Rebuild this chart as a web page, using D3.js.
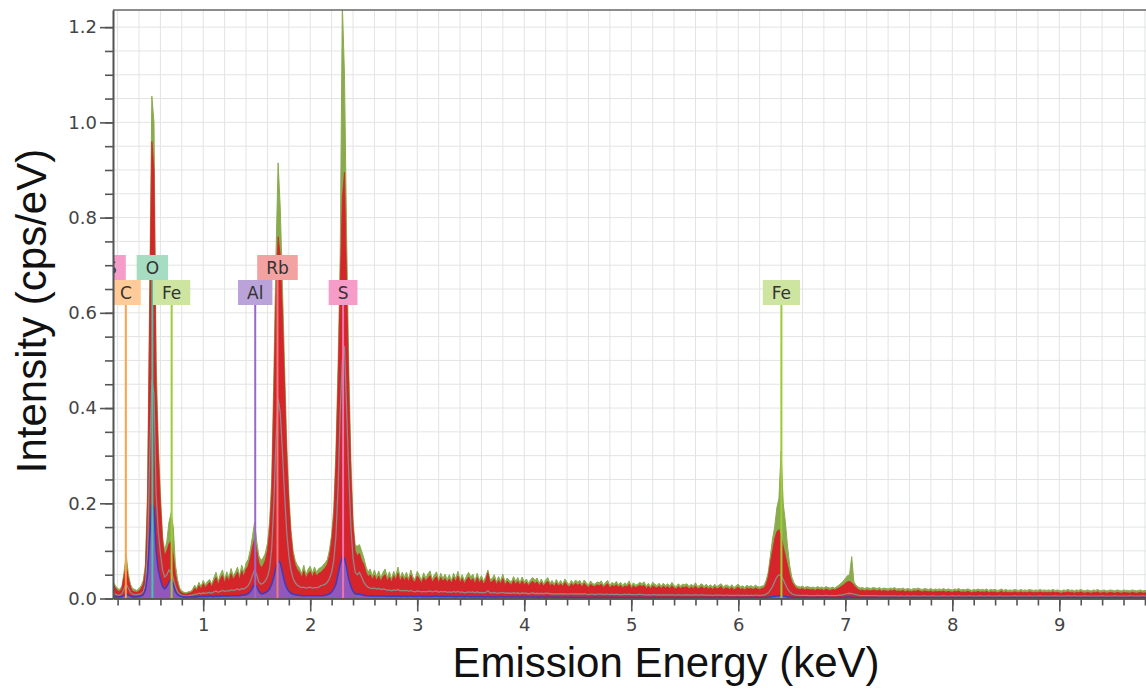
<!DOCTYPE html>
<html>
<head>
<meta charset="utf-8">
<script src="https://cdn.jsdelivr.net/npm/d3@7"></script>
<style>
  body { margin: 0; background: #fff; }
  text { font-family: "DejaVu Sans", Verdana, sans-serif; }
</style>
</head>
<body>
<div id="chart-area"></div>
<script>
// channels start at 0.10 keV, 0.02 keV apart, 10 channels (0.2 keV) per row
// intensities in thousandths of cps/eV
let greenTop = [
  36,38,37,34,27,21,19,26,55,92,
  52,30,21,19,17,21,27,38,72,230,
  650,1055,1000,500,330,220,130,100,120,160,
  180,150,72,40,22,16,13,12,14,15,
  19,28,22,34,25,38,29,36,40,30,
  44,55,36,50,60,40,56,44,63,48,
  55,66,48,70,55,74,82,102,130,160,
  120,90,80,85,95,115,160,250,470,720,
  915,820,660,490,330,220,145,100,80,70,
  64,52,70,50,61,68,53,66,55,63,
  65,70,75,82,102,135,190,310,490,720,
  1250,1100,760,490,290,165,112,110,113,100,
  86,68,55,62,47,60,45,58,43,55,
  62,44,56,41,57,46,66,43,55,45,
  55,41,60,45,40,57,48,39,54,43,
  52,58,40,50,56,39,53,42,51,40,
  50,38,53,42,57,39,50,37,47,55,
  45,51,37,53,39,48,36,46,60,40,
  42,50,35,46,37,51,34,43,38,35,
  46,36,44,33,45,35,41,32,40,44,
  38,43,32,41,31,39,44,32,38,30,
  40,31,38,30,41,34,29,38,32,39,
  34,38,29,39,33,28,37,31,30,35,
  33,37,28,34,38,27,34,30,36,29,
  34,27,33,29,37,26,33,28,30,34,
  31,35,26,32,25,34,30,27,32,26,
  32,27,31,26,34,27,25,31,26,30,
  29,31,25,30,26,33,25,28,31,25,
  30,25,29,24,30,25,28,31,24,28,
  28,24,29,23,27,30,24,27,23,28,
  25,27,24,28,25,24,26,27,38,55,
  90,125,150,190,210,310,200,160,110,70,
  45,33,27,25,24,26,23,25,24,23,
  24,22,25,23,24,22,25,23,22,24,
  22,25,28,32,36,42,48,50,88,35,
  28,24,22,23,21,23,22,21,23,22,
  21,23,20,22,21,20,22,21,23,20,
  21,20,22,19,21,20,19,21,20,22,
  20,19,21,20,19,21,18,20,19,20,
  19,21,18,20,19,18,20,19,21,18,
  19,18,20,19,17,19,18,20,18,19,
  18,20,17,19,18,19,17,18,20,17,
  19,17,18,17,19,18,17,19,17,18,
  17,19,18,17,18,17,19,17,18,17,
  18,17,19,17,18,17,16,18,17,19,
  17,18,16,18,17,19,17,16,18,17,
  16,18,17,19,16,17,18,16,17,18,
  17,16,18,17,16,18,17,17,16,18,
  17,16,17,18,16,17,16,18,17,16
];

let redFill = [
  31,33,32,29,22,16,15,21,46,70,
  42,24,15,14,13,16,21,30,60,200,
  600,960,900,450,300,200,120,90,100,115,
  120,92,52,30,17,12,10,9,11,12,
  14,22,17,27,20,31,23,29,34,24,
  36,44,29,41,49,33,46,37,52,40,
  47,55,40,58,46,62,68,85,108,125,
  100,75,65,70,80,100,140,220,420,640,
  760,720,600,450,300,200,130,90,70,60,
  55,44,58,42,52,57,45,56,47,53,
  55,60,65,72,90,120,170,280,450,650,
  840,895,660,440,260,150,100,90,95,80,
  72,56,46,50,40,49,38,47,36,46,
  50,37,45,34,48,39,53,36,46,38,
  45,35,49,38,34,47,40,33,44,37,
  43,48,34,41,46,33,44,36,42,34,
  41,32,44,35,47,33,42,31,39,45,
  37,42,31,44,33,40,30,38,54,34,
  35,41,29,38,31,42,28,36,32,29,
  38,30,36,28,37,29,34,27,33,36,
  31,35,27,34,26,32,36,27,31,25,
  33,26,31,25,34,28,24,31,27,32,
  28,31,24,32,27,23,30,26,25,29,
  27,30,23,28,31,22,28,25,29,24,
  28,22,27,24,30,21,27,23,25,28,
  25,28,21,26,20,27,24,22,26,21,
  26,22,25,21,27,22,20,25,21,24,
  23,25,20,24,21,26,20,22,25,20,
  24,20,23,19,24,20,22,25,19,22,
  22,19,23,18,21,24,19,21,18,22,
  20,21,19,22,20,19,21,22,30,45,
  75,100,125,140,145,130,110,90,70,50,
  35,28,22,20,19,21,18,20,19,18,
  19,17,20,18,19,17,20,18,17,19,
  18,20,22,25,28,32,35,36,33,28,
  23,19,17,18,16,18,17,16,18,17,
  16,18,15,17,16,15,17,16,18,15,
  16,15,17,14,16,15,14,16,15,17,
  15,14,16,15,14,16,13,15,14,15,
  14,16,13,15,14,13,15,14,16,13,
  14,13,15,14,12,14,13,15,13,14,
  13,15,12,14,13,14,12,13,15,12,
  14,12,13,12,14,13,12,14,12,13,
  12,14,13,12,13,12,14,12,13,12,
  13,12,14,12,13,12,11,13,12,14,
  12,13,11,13,12,14,12,11,13,12,
  11,13,12,14,11,12,13,11,12,13,
  12,11,13,12,11,13,12,12,11,13,
  12,11,12,13,11,12,11,13,12,11
];

let grayLine = [
  14,15,14,12,9,7,7,10,20,30,
  22,13,9,8,8,9,10,15,30,95,
  300,460,430,220,140,95,60,45,50,60,
  55,42,25,14,9,7,6,5,6,7,
  7,9,9,11,10,12,11,12,13,11,
  14,16,13,15,17,15,16,16,18,17,
  18,20,18,21,20,23,27,35,48,60,
  50,35,30,32,37,45,62,105,200,330,
  420,390,310,220,140,90,60,42,33,28,
  25,23,24,22,23,24,22,23,23,24,
  27,28,30,34,42,55,80,130,230,390,
  500,530,400,260,150,85,55,50,55,45,
  35,28,24,22,21,22,20,21,19,20,
  19,17,18,16,18,17,19,16,17,16,
  17,15,17,15,14,16,15,14,15,14,
  15,16,14,15,16,13,15,14,15,13,
  14,13,15,13,15,13,14,12,13,14,
  13,14,12,14,12,13,12,13,16,12,
  12,13,11,12,12,13,11,12,11,11,
  12,11,12,10,12,11,11,10,11,12,
  10,11,10,11,10,11,11,10,10,9,
  10,9,10,9,10,9,9,10,9,10,
  9,10,9,10,9,8,9,9,8,9,
  9,9,8,9,9,8,9,8,9,8,
  8,8,9,8,9,8,8,8,8,9,
  8,8,7,8,7,8,8,7,8,7,
  8,7,8,7,8,7,7,8,7,7,
  7,8,7,7,7,8,7,7,8,7,
  7,7,7,6,7,7,7,7,6,7,
  7,6,7,6,7,7,6,7,6,7,
  6,7,6,7,7,6,7,7,9,12,
  18,25,35,45,50,48,40,30,20,14,
  10,8,7,7,6,7,6,7,6,6,
  6,6,7,6,6,6,7,6,6,6,
  6,6,7,7,8,9,10,11,10,9,
  8,7,6,6,6,6,6,6,6,6,
  6,5,6,5,6,5,6,5,6,5,
  5,6,5,5,6,5,5,6,5,5,
  5,5,6,5,5,5,6,5,5,5,
  5,6,5,5,5,6,5,5,6,5,
  5,5,5,6,5,5,5,5,6,5,
  5,5,6,5,5,5,5,6,5,5,
  5,5,5,5,6,5,5,5,5,5,
  5,6,5,5,5,5,6,5,5,5,
  5,5,5,6,5,5,5,5,5,6,
  5,5,6,5,5,5,5,6,5,5,
  5,5,5,5,5,6,5,5,5,5,
  5,6,5,5,5,5,5,5,6,5,
  5,5,5,5,6,5,5,5,5,5
];

let blueLine = [
  5,5,5,4,3,3,3,4,6,9,
  7,5,3,3,3,4,5,8,18,50,
  130,200,190,100,60,40,25,20,25,35,
  40,30,15,8,5,4,3,3,3,3,
  3,3,3,4,4,4,4,4,5,4,
  4,5,4,5,5,5,5,5,6,6,
  6,6,6,7,7,8,10,14,22,30,
  25,15,10,10,12,15,20,30,45,65,
  80,75,55,35,22,15,11,9,8,7,
  7,6,6,6,6,6,6,6,6,6,
  6,6,7,8,10,13,20,30,50,72,
  87,85,65,40,25,15,10,9,9,8,
  7,6,6,5,5,5,5,5,5,5,
  5,4,5,4,5,4,5,4,4,5,
  4,4,5,4,4,4,5,4,4,4,
  4,4,4,4,5,4,4,4,4,4,
  4,4,4,3,4,4,4,3,4,4,
  3,4,3,4,3,4,3,3,4,3,
  3,3,3,3,4,3,3,3,3,3,
  3,3,3,3,3,3,3,3,3,3,
  3,3,2,3,3,2,3,3,2,3,
  2,3,2,2,3,2,2,3,2,2,
  2,2,2,3,2,2,2,2,3,2,
  2,2,2,2,2,2,3,2,2,2,
  2,2,2,2,2,2,2,2,2,2,
  2,2,2,2,2,2,2,2,2,2,
  2,2,2,2,2,2,2,2,2,2,
  2,2,2,2,2,2,2,2,2,2,
  2,2,2,2,2,2,2,2,2,2,
  2,2,2,2,2,2,2,2,2,2,
  2,2,2,2,2,2,2,2,2,3,
  3,4,4,5,6,6,5,4,3,3,
  2,2,2,2,2,2,2,2,2,2,
  2,2,2,2,2,2,2,2,2,2,
  2,2,2,2,2,2,3,3,2,2,
  2,2,2,2,2,2,2,2,2,2,
  2,2,2,2,2,2,2,2,2,2,
  2,2,2,2,2,2,2,2,2,2,
  2,2,2,2,2,2,2,2,2,2,
  2,2,2,2,2,2,2,2,2,2,
  2,2,2,2,2,2,2,2,2,2,
  2,2,2,2,2,2,2,2,2,2,
  2,2,2,2,2,2,2,2,2,2,
  2,2,2,2,2,2,2,2,2,2,
  2,2,2,2,2,2,2,2,2,2,
  2,2,2,2,2,2,2,2,2,2,
  2,2,2,2,2,2,2,2,2,2,
  2,2,2,2,2,2,2,2,2,2,
  2,2,2,2,2,2,2,2,2,2
];

// element markers
let markerNames = ["S", "C", "O", "Fe", "Al", "Rb", "S", "Fe"];
let markerEnergy = [0.142, 0.277, 0.525, 0.705, 1.486, 1.694, 2.307, 6.403];
let markerTier = [0, 1, 0, 1, 1, 0, 1, 1];

let xTicks = [1, 2, 3, 4, 5, 6, 7, 8, 9];
let yTicks = [0, 0.2, 0.4, 0.6, 0.8, 1.0, 1.2];

let boxColor = { S: "#f59cc8", C: "#ffcb98", O: "#a6dcc1", Fe: "#cde5a0", Al: "#b9a3d8", Rb: "#f3a2a2" };
let lineColor = { S: "#ec74b0", C: "#ffa04a", O: "#3fc9a8", Fe: "#9ccc36", Al: "#9a68c8", Rb: "#ee7a7a" };

let margin = { top: 10, right: 0, bottom: 90.5, left: 113 };
let width = 1146 - margin.left - margin.right,
  height = 689 - margin.top - margin.bottom;

let svg = d3
  .select("#chart-area")
  .append("svg")
  .attr("width", 1146)
  .attr("height", 689);

let bigG = svg
  .append("g")
  .attr("transform", "translate(" + margin.left + "," + margin.top + ")");

let xScale = d3.scaleLinear().domain([0.157, 9.81]).range([0, width]);
let yScale = d3.scaleLinear().domain([0, 1.236]).range([height, 0]);

let energy = d3.range(greenTop.length).map(function(i) {
  return 0.1 + i * 0.02;
});

function series(arr) {
  return arr.map(function(v, i) {
    return { e: energy[i], v: v / 1000 };
  });
}

bigG.append("clipPath").attr("id", "plotClip")
  .append("rect").attr("x", 0).attr("y", 0).attr("width", width).attr("height", height);

// grid
let gridG = bigG.append("g").attr("stroke", "#e2e4e4").attr("stroke-width", 1);
gridG.selectAll(".vg")
  .data(d3.range(1, 50).map(function(i) { return i * 0.2; }))
  .enter().append("line")
  .attr("x1", function(d) { return xScale(d); })
  .attr("x2", function(d) { return xScale(d); })
  .attr("y1", 0).attr("y2", height);
gridG.selectAll(".hg")
  .data(d3.range(1, 25).map(function(i) { return i * 0.05; }))
  .enter().append("line")
  .attr("x1", 0).attr("x2", width)
  .attr("y1", function(d) { return yScale(d); })
  .attr("y2", function(d) { return yScale(d); });

let dataG = bigG.append("g").attr("clip-path", "url(#plotClip)");

let area = d3.area()
  .x(function(d) { return xScale(d.e); })
  .y0(height)
  .y1(function(d) { return yScale(d.v); });
let line = d3.line()
  .x(function(d) { return xScale(d.e); })
  .y(function(d) { return yScale(d.v); });

dataG.append("path").datum(series(greenTop))
  .attr("d", area).attr("fill", "#8aab4d").attr("stroke", "#8aab4d").attr("stroke-width", 1);
dataG.append("path").datum(series(redFill))
  .attr("d", area).attr("fill", "#d6242b").attr("stroke", "#d6242b").attr("stroke-width", 0.8);
dataG.append("path").datum(series(grayLine))
  .attr("d", line).attr("fill", "none").attr("stroke", "#8d8a8a").attr("stroke-width", 1.3);
dataG.append("path").datum(series(blueLine))
  .attr("d", area).attr("fill", "#8a5ec6").attr("fill-opacity", 0.9);
dataG.append("path").datum(series(blueLine))
  .attr("d", line).attr("fill", "none").attr("stroke", "#3b3bc4").attr("stroke-width", 1.5);

// markers
let markers = markerNames.map(function(n, i) {
  return { name: n, e: markerEnergy[i], tier: markerTier[i] };
});
let markG = bigG.append("g").attr("clip-path", "url(#plotClip)");
let boxTop = [245, 270], boxH = 25;

markG.selectAll(".mline").data(markers).enter().append("line")
  .attr("x1", function(d) { return xScale(d.e); })
  .attr("x2", function(d) { return xScale(d.e); })
  .attr("y1", function(d) { return boxTop[d.tier] + boxH; })
  .attr("y2", height)
  .attr("stroke", function(d) { return lineColor[d.name]; })
  .attr("stroke-width", 2);

let mg = markG.selectAll(".mbox").data(markers).enter().append("g");
mg.append("text")
  .attr("x", function(d) { return xScale(d.e); })
  .attr("y", function(d) { return boxTop[d.tier] + 18.5; })
  .attr("text-anchor", "middle")
  .attr("font-size", 17)
  .attr("fill", "#333")
  .text(function(d) { return d.name; })
  .each(function(d) { d.w = this.getComputedTextLength() + 18; });
mg.insert("rect", "text")
  .attr("x", function(d) { return xScale(d.e) - d.w / 2; })
  .attr("y", function(d) { return boxTop[d.tier]; })
  .attr("width", function(d) { return d.w; })
  .attr("height", boxH)
  .attr("fill", function(d) { return boxColor[d.name]; });

// axes
let yAxisMinor = d3.axisLeft(yScale)
  .tickValues(d3.range(0, 25).map(function(i) { return i * 0.05; }))
  .tickSize(8).tickSizeOuter(0).tickFormat("");
let yAxis = d3.axisLeft(yScale)
  .tickValues(yTicks).tickSize(13).tickSizeOuter(0).tickPadding(3)
  .tickFormat(d3.format(".1f"));
let xAxisMinor = d3.axisBottom(xScale)
  .tickValues(d3.range(1, 50).map(function(i) { return i * 0.2; }))
  .tickSize(7).tickSizeOuter(0).tickFormat("");
let xAxis = d3.axisBottom(xScale)
  .tickValues(xTicks).tickSize(13).tickSizeOuter(0).tickPadding(7)
  .tickFormat(d3.format("d"));

bigG.append("g").call(yAxisMinor);
bigG.append("g").call(yAxis);
bigG.append("g").attr("transform", "translate(0," + height + ")").call(xAxisMinor);
bigG.append("g").attr("transform", "translate(0," + height + ")").call(xAxis);

bigG.selectAll(".domain, .tick line").attr("stroke", "#555").attr("stroke-width", 1.6);
bigG.selectAll(".tick text")
  .attr("font-family", "'DejaVu Sans', Verdana, sans-serif")
  .attr("font-size", 18)
  .attr("fill", "#444");

// top border
bigG.append("line").attr("x1", 0).attr("x2", width).attr("y1", 0).attr("y2", 0)
  .attr("stroke", "#666").attr("stroke-width", 1.6);

// axis titles
svg.append("text")
  .attr("x", 666).attr("y", 677)
  .attr("text-anchor", "middle")
  .style("font-family", "'Liberation Sans', Arial, sans-serif")
  .attr("font-size", 42)
  .attr("fill", "#111")
  .text("Emission Energy (keV)");
svg.append("text")
  .attr("transform", "translate(46,311) rotate(-90)")
  .attr("text-anchor", "middle")
  .style("font-family", "'Liberation Sans', Arial, sans-serif")
  .attr("font-size", 42)
  .attr("fill", "#111")
  .text("Intensity (cps/eV)");
</script>
</body>
</html>
